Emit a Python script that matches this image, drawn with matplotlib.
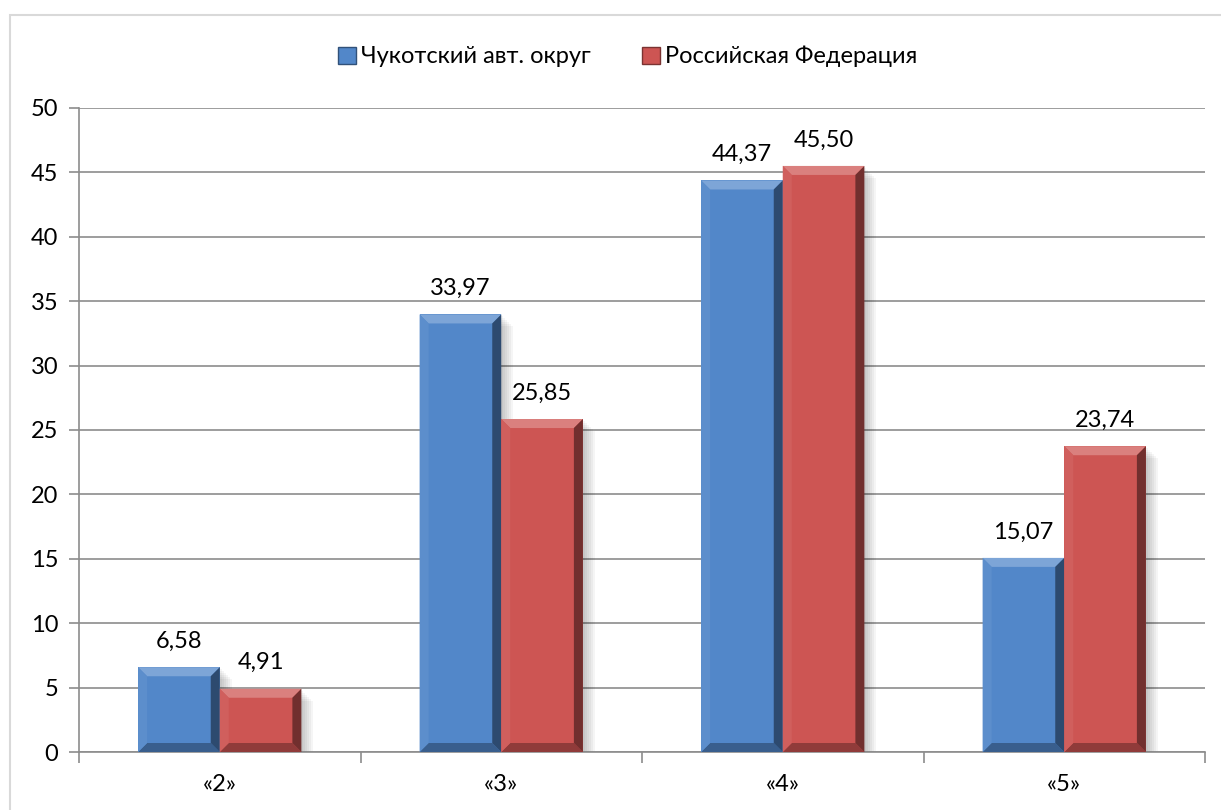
import matplotlib
matplotlib.use('Agg')
import matplotlib.pyplot as plt
from matplotlib.patches import Polygon, Rectangle
from matplotlib.colors import to_rgb
import numpy as np

# Data
categories = ['«2»', '«3»', '«4»', '«5»']
series_names = ['Чукотский авт. округ', 'Российская Федерация']
chukotka = [6.58, 33.97, 44.37, 15.07]
russia = [4.91, 25.85, 45.50, 23.74]
colors = ['#5287C9', '#CD5553']

plt.rcParams['font.family'] = ['Lato', 'DejaVu Sans']

fig = plt.figure(figsize=(12.21, 8.10), dpi=100)
ax = fig.add_axes([0.0647, 0.0716, 0.9222, 0.7951])

# light frame around the chart (clipped on right/bottom like the original)
fig.add_artist(Rectangle((10 / 1221, -0.1), 1.2, 1 - 15 / 810 + 0.1,
                         transform=fig.transFigure, fill=False,
                         edgecolor='#D9D9D9', linewidth=1.5))

ax.set_xlim(-0.5, 3.5)
ax.set_ylim(0, 50)
ax.set_yticks(np.arange(0, 51, 5))
ax.yaxis.grid(True, color='#8C8C8C', linewidth=1.2)
ax.set_axisbelow(True)

width = 0.29
px_x = 1126 / 4.0   # pixels per x unit
px_y = 644 / 50.0   # pixels per y unit
bev_x = 9 / px_x
bev_y = 9 / px_y


def mix(c, other, t):
    c = np.array(to_rgb(c))
    o = np.array(to_rgb(other))
    return tuple(c * (1 - t) + o * t)


def bevel_bar(x0, h, color):
    x1 = x0 + width
    # drop shadow
    for k in range(6):
        d = (k + 1) * 2.0
        ax.add_patch(Rectangle((x0 + d / px_x, 0), width, h - d / px_y,
                               facecolor='black', alpha=0.04, linewidth=0, zorder=2))
    ax.add_patch(Rectangle((x0, 0), width, h, facecolor=color, linewidth=0, zorder=3))
    bx = min(bev_x, width / 2)
    by = min(bev_y, h / 2)
    top = [(x0, h), (x1, h), (x1 - bx, h - by), (x0 + bx, h - by)]
    bot = [(x0, 0), (x1, 0), (x1 - bx, by), (x0 + bx, by)]
    left = [(x0, 0), (x0, h), (x0 + bx, h - by), (x0 + bx, by)]
    right = [(x1, 0), (x1, h), (x1 - bx, h - by), (x1 - bx, by)]
    ax.add_patch(Polygon(top, facecolor=mix(color, 'white', 0.25), linewidth=0, zorder=4))
    ax.add_patch(Polygon(bot, facecolor=mix(color, 'black', 0.3), linewidth=0, zorder=4))
    ax.add_patch(Polygon(left, facecolor=mix(color, 'white', 0.06), linewidth=0, zorder=4))
    ax.add_patch(Polygon(right, facecolor=mix(color, 'black', 0.45), linewidth=0, zorder=4))


x = np.arange(len(categories))
for i, (vals, col) in enumerate([(chukotka, colors[0]), (russia, colors[1])]):
    for xi, v in zip(x, vals):
        x0 = xi - width + i * width
        bevel_bar(x0, v, col)
        ax.text(x0 + width / 2, v + 1.2, f'{v:.2f}'.replace('.', ','),
                ha='center', va='bottom', fontsize=17, zorder=5)

# axes styling
for s in ['top', 'right']:
    ax.spines[s].set_visible(False)
ax.spines['left'].set_color('#8C8C8C')
ax.spines['bottom'].set_color('#8C8C8C')
ax.spines['left'].set_linewidth(1.2)
ax.spines['bottom'].set_linewidth(1.2)
ax.spines['left'].set_zorder(1)

ax.set_xticks(np.arange(-0.5, 3.6, 1.0))
ax.set_xticklabels([])
ax.set_xticks(x, minor=True)
ax.set_xticklabels(categories, minor=True, fontsize=17)
ax.tick_params(axis='x', which='major', length=8, color='#8C8C8C', width=1.2)
ax.tick_params(axis='x', which='minor', length=0, pad=16)
ax.tick_params(axis='y', length=7, color='#8C8C8C', width=1.2, labelsize=17, pad=8)

# legend
handles = [Rectangle((0, 0), 1, 1, facecolor=c, edgecolor=mix(c, 'black', 0.4)) for c in colors]
fig.legend(handles, series_names, loc='center', bbox_to_anchor=(0.514, 0.93),
           ncol=2, frameon=False, fontsize=17, handlelength=0.75, handleheight=0.75,
           handletextpad=0.2, columnspacing=2.2)

fig.savefig('out.png', dpi=100)
